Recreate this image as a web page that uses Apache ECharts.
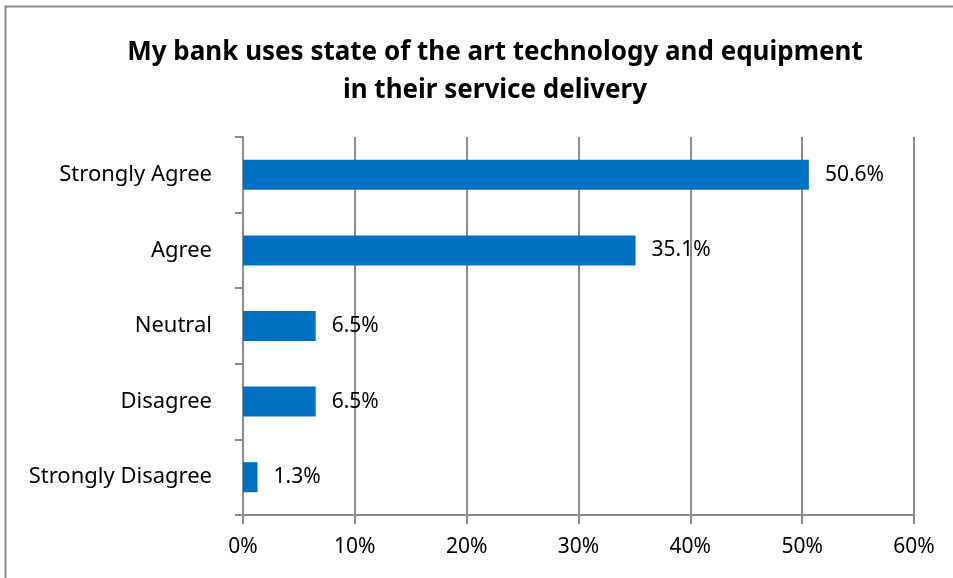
<!DOCTYPE html>
<html>
<head>
<meta charset="utf-8">
<script src="https://cdn.jsdelivr.net/npm/echarts@6/dist/echarts.min.js"></script>
<style>
  html, body { margin: 0; padding: 0; background: #fff; }
  #chart { width: 953px; height: 578px; }
</style>
</head>
<body>
<div id="chart"></div>
<script>
// Survey responses, listed bottom-to-top as the category axis draws them
const categories = ['Strongly Disagree', 'Disagree', 'Neutral', 'Agree', 'Strongly Agree'];
const percentages = [1.3, 6.5, 6.5, 35.1, 50.6];
const titleLines = ['My bank uses state of the art technology and equipment', 'in their service delivery'];

const FONT = '"Noto Sans", "Open Sans", sans-serif';
const chart = echarts.init(document.getElementById('chart'), null, { renderer: 'canvas' });

chart.setOption({
  backgroundColor: '#ffffff',
  animation: false,
  title: {
    text: titleLines.join('\n'),
    left: 490,
    textAlign: 'center',
    top: 29,
    textStyle: {
      fontFamily: FONT,
      fontWeight: 'bold',
      fontSize: 26,
      lineHeight: 38,
      color: '#000'
    }
  },
  graphic: [{
    type: 'rect',
    shape: { x: 5.5, y: 6.5, width: 1200, height: 1200 },
    style: { fill: 'none', stroke: '#8c8c8c', lineWidth: 2 },
    silent: true
  }],
  grid: { left: 243, right: 39, top: 137, bottom: 63 },
  xAxis: {
    type: 'value',
    min: 0,
    max: 60,
    interval: 10,
    axisLine: { show: true, lineStyle: { color: '#8c8c8c', width: 2 } },
    axisTick: { show: true, length: 9, lineStyle: { color: '#8c8c8c', width: 2 } },
    splitLine: { show: true, lineStyle: { color: '#8c8c8c', width: 2 } },
    axisLabel: {
      formatter: v => v + '%',
      fontFamily: FONT,
      fontSize: 21,
      color: '#000',
      margin: 22
    }
  },
  yAxis: {
    type: 'category',
    data: categories,
    axisLine: { show: true, lineStyle: { color: '#8c8c8c', width: 2 } },
    axisTick: { show: true, length: 8, alignWithLabel: false, lineStyle: { color: '#8c8c8c', width: 2 } },
    axisLabel: {
      fontFamily: FONT,
      fontSize: 22,
      color: '#000',
      margin: 31
    }
  },
  series: [{
    type: 'bar',
    data: percentages,
    barWidth: 30,
    itemStyle: { color: '#0070C0' },
    label: {
      show: true,
      position: 'right',
      distance: 16,
      formatter: p => p.value.toFixed(1) + '%',
      fontFamily: FONT,
      fontSize: 21,
      color: '#000'
    }
  }]
});
</script>
</body>
</html>
